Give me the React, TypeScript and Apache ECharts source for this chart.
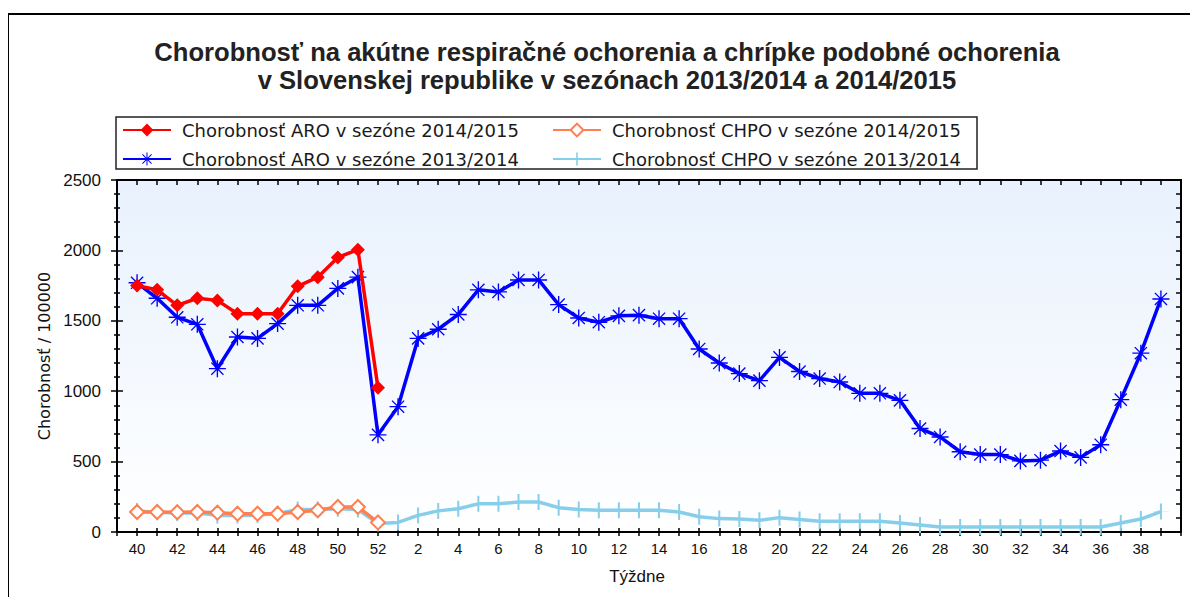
import React, { useEffect, useRef } from "react";
import * as echarts from "echarts";

const weeks: string[] = [
  "40", "41", "42", "43", "44", "45", "46", "47", "48", "49", "50", "51", "52",
  "1", "2", "3", "4", "5", "6", "7", "8", "9", "10", "11", "12", "13", "14", "15",
  "16", "17", "18", "19", "20", "21", "22", "23", "24", "25", "26", "27", "28",
  "29", "30", "31", "32", "33", "34", "35", "36", "37", "38", "39",
];

const aro1415: number[] = [1750, 1720, 1610, 1660, 1645, 1550, 1550, 1550, 1745, 1810, 1950, 2005, 1025];
const chpo1415: number[] = [142, 142, 140, 142, 137, 130, 130, 130, 142, 154, 178, 178, 68];

const aro1314: number[] = [
  1770, 1660, 1525, 1475, 1160, 1385, 1375, 1480, 1610, 1610, 1730, 1810, 690,
  890, 1375, 1440, 1545, 1720, 1705, 1790, 1790, 1615, 1520, 1490, 1535, 1540, 1515, 1515,
  1300, 1200, 1125, 1075, 1240, 1140, 1090, 1065, 985, 985, 935, 735, 675,
  570, 550, 550, 505, 510, 575, 530, 620, 940, 1270, 1655,
];

const chpo1314: number[] = [
  150, 140, 135, 135, 118, 118, 120, 130, 160, 162, 165, 160, 60,
  68, 118, 150, 165, 200, 200, 213, 213, 173, 160, 155, 155, 155, 155, 142,
  108, 95, 92, 83, 102, 88, 76, 76, 76, 76, 64, 50, 36,
  36, 36, 36, 36, 36, 36, 36, 36, 64, 92, 145,
];

const yTicks: number[] = [0, 500, 1000, 1500, 2000, 2500];

const names = {
  aro1415: "Chorobnosť ARO v sezóne 2014/2015",
  chpo1415: "Chorobnosť CHPO v sezóne 2014/2015",
  aro1314: "Chorobnosť ARO v sezóne 2013/2014",
  chpo1314: "Chorobnosť CHPO v sezóne 2013/2014",
};

const titleLines = [
  "Chorobnosť na akútne respiračné ochorenia a chrípke podobné ochorenia",
  "v Slovenskej republike v sezónach 2013/2014 a 2014/2015",
];

const asterisk =
  "path://M0,9.2 L20,9.2 L20,10.8 L0,10.8 Z M9.2,0 L10.8,0 L10.8,20 L9.2,20 Z M2.3,3.4 L3.4,2.3 L17.7,16.6 L16.6,17.7 Z M16.6,2.3 L17.7,3.4 L3.4,17.7 L2.3,16.6 Z";
const vbar = "path://M7,0 L9,0 L9,16 L7,16 Z M0,7.95 L16,7.95 L16,8.05 L0,8.05 Z";

const toPts = (arr: number[]) => arr.map((v, i) => [i, v]);

export default function App() {
  const ref = useRef<HTMLDivElement>(null);
  useEffect(() => {
    if (!ref.current) return;
    const chart = echarts.init(ref.current, undefined, { renderer: "svg" });
    const legendFont = { fontFamily: "DejaVu Sans", fontSize: 18, color: "#1a1a1a" };
    const mkLegend = (name: string, left: number, top: number) => ({
      show: true,
      data: [name],
      left,
      top,
      itemWidth: 48,
      itemHeight: 16,
      padding: 0,
      textStyle: { ...legendFont, padding: [0, 0, 0, 6] },
      selectedMode: false,
    });
    const xBase = { type: "value", min: -1, max: 52, interval: 1, gridIndex: 0 };
    const yBase = { type: "value", min: 0, max: 2500, interval: 500, gridIndex: 0 };
    const tickStyle = { color: "#000", width: 1.5 };
    chart.setOption({
      animation: false,
      backgroundColor: "#ffffff",
      title: {
        text: titleLines.join("\n"),
        left: 602,
        textAlign: "center",
        top: 33,
        textStyle: {
          fontFamily: "'Liberation Sans Narrow', 'Arial Narrow', 'Liberation Sans', sans-serif",
          fontWeight: "bold",
          fontSize: 25.6,
          lineHeight: 28,
          color: "#222222",
        },
      },
      legend: [
        mkLegend(names.aro1415, 122, 121),
        mkLegend(names.chpo1415, 552, 121),
        mkLegend(names.aro1314, 122, 150),
        mkLegend(names.chpo1314, 552, 150),
      ],
      graphic: [
        {
          type: "rect",
          shape: { x: 8, y: 14, width: 1186, height: 660 },
          style: { fill: "none", stroke: "#000000", lineWidth: 2 },
          silent: true,
        },
        {
          type: "rect",
          shape: { x: 116, y: 117, width: 861, height: 52 },
          style: { fill: "none", stroke: "#222222", lineWidth: 1.5 },
          silent: true,
        },
      ],
      grid: {
        left: 117,
        right: 17,
        top: 180,
        bottom: 73,
        show: true,
        borderColor: "#000000",
        borderWidth: 1.5,
        backgroundColor: {
          type: "linear",
          x: 0,
          y: 0,
          x2: 0,
          y2: 1,
          colorStops: [
            { offset: 0, color: "#e8f1fd" },
            { offset: 1, color: "#ffffff" },
          ],
        },
      },
      xAxis: [
        {
          ...xBase,
          position: "bottom",
          name: "Týždne",
          nameLocation: "middle",
          nameGap: 36,
          nameTextStyle: { fontFamily: "Liberation Sans", fontSize: 17, color: "#111", padding: [0, 24, 0, 0] },
          axisLine: { show: true, onZero: false, lineStyle: { color: "#000", width: 2 } },
          axisTick: { show: true, inside: false, length: 4, lineStyle: tickStyle },
          axisLabel: {
            fontFamily: "Liberation Sans",
            fontSize: 15,
            color: "#111",
            margin: 9,
            formatter: (v: number) => (v >= 0 && v < weeks.length && v % 2 === 0 ? weeks[v] : ""),
          },
          splitLine: { show: false },
        },
        {
          ...xBase,
          position: "bottom",
          axisLine: { show: false, onZero: false },
          axisTick: { show: true, inside: true, length: 4, lineStyle: tickStyle },
          axisLabel: { show: false },
          splitLine: { show: false },
        },
        {
          ...xBase,
          position: "top",
          axisLine: { show: true, onZero: false, lineStyle: { color: "#000", width: 2 } },
          axisTick: { show: true, inside: true, length: 5, lineStyle: tickStyle },
          axisLabel: { show: false },
          splitLine: { show: false },
        },
      ],
      yAxis: [
        {
          ...yBase,
          position: "left",
          name: "Chorobnosť / 100000",
          nameLocation: "middle",
          nameGap: 58,
          nameTextStyle: { fontFamily: "DejaVu Sans", fontSize: 16, color: "#111" },
          axisLine: { show: true, onZero: false, lineStyle: { color: "#000", width: 2 } },
          axisTick: { show: true, inside: false, length: 6, lineStyle: tickStyle },
          minorTick: { show: true, splitNumber: 5, length: 3, lineStyle: tickStyle },
          axisLabel: {
            fontFamily: "Liberation Sans",
            fontSize: 17,
            color: "#111",
            margin: 16,
            formatter: (v: number) => (yTicks.includes(v) ? String(v) : ""),
          },
          splitLine: { show: false },
          minorSplitLine: { show: false },
        },
        {
          ...yBase,
          position: "left",
          axisLine: { show: false, onZero: false },
          axisTick: { show: true, inside: true, length: 6, lineStyle: tickStyle },
          minorTick: { show: true, splitNumber: 5, length: 3, lineStyle: tickStyle },
          axisLabel: { show: false },
          splitLine: { show: false },
        },
        {
          ...yBase,
          position: "right",
          axisLine: { show: true, onZero: false, lineStyle: { color: "#000", width: 2 } },
          axisTick: { show: true, inside: true, length: 5, lineStyle: tickStyle },
          minorTick: { show: true, splitNumber: 5, length: 5, lineStyle: tickStyle },
          axisLabel: { show: false },
          splitLine: { show: false },
        },
      ],
      series: [
        {
          name: names.chpo1314,
          type: "line",
          data: toPts(chpo1314),
          color: "#87ceeb",
          lineStyle: { width: 3.5, color: "#87ceeb" },
          symbol: vbar,
          symbolSize: 16,
          itemStyle: { color: "#87ceeb" },
          z: 2,
        },
        {
          name: names.aro1314,
          type: "line",
          data: toPts(aro1314),
          color: "#0000ff",
          lineStyle: { width: 3.5, color: "#0000ff" },
          symbol: asterisk,
          symbolSize: 17,
          itemStyle: { color: "#0000ff" },
          z: 3,
        },
        {
          name: names.chpo1415,
          type: "line",
          data: toPts(chpo1415),
          color: "#ff7f50",
          lineStyle: { width: 3.5, color: "#ff7f50" },
          symbol: "emptyDiamond",
          symbolSize: 14,
          itemStyle: { color: "#ff7f50", borderWidth: 1.5 },
          z: 4,
        },
        {
          name: names.aro1415,
          type: "line",
          data: toPts(aro1415),
          color: "#ff0000",
          lineStyle: { width: 3.5, color: "#ff0000" },
          symbol: "diamond",
          symbolSize: 14,
          itemStyle: { color: "#ff0000" },
          z: 5,
        },
      ],
    });
    return () => chart.dispose();
  }, []);
  return <div ref={ref} style={{ width: 1198, height: 605, margin: -8 }} />;
}
